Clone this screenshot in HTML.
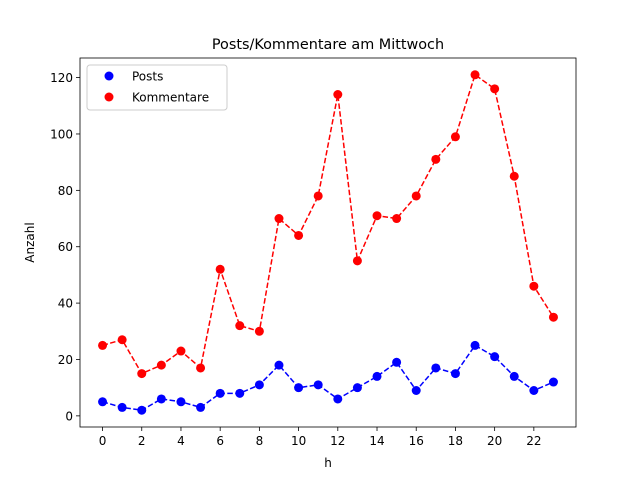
<!DOCTYPE html>
<html><head><meta charset="utf-8"><style>
body{margin:0;background:#fff;}
svg text{font-family:"DejaVu Sans","Liberation Sans",sans-serif;}
</style></head><body>
<svg id="chart" width="640" height="480" xmlns="http://www.w3.org/2000/svg"></svg>
<script>
const hours = [0,1,2,3,4,5,6,7,8,9,10,11,12,13,14,15,16,17,18,19,20,21,22,23];
const posts = [5,3,2,6,5,3,8,8,11,18,10,11,6,10,14,19,9,17,15,25,21,14,9,12];
const kommentare = [25,27,15,18,23,17,52,32,30,70,64,78,114,55,71,70,78,91,99,121,116,85,46,35];
const xTicks = [0,2,4,6,8,10,12,14,16,18,20,22];
const yTicks = [0,20,40,60,80,100,120];

const L=80,R=576,T=58,B=427;
const allV=posts.concat(kommentare);
const vmin=Math.min(...allV), vmax=Math.max(...allV);
const ypad=(vmax-vmin)*0.05, y0=vmin-ypad, y1=vmax+ypad;
const hmin=Math.min(...hours), hmax=Math.max(...hours), xpad=(hmax-hmin)*0.05;
const x0=hmin-xpad, x1=hmax+xpad;
const sx=v=>L+(v-x0)/(x1-x0)*(R-L);
const sy=v=>B-(v-y0)/(y1-y0)*(B-T);
const svg=document.getElementById('chart');
const NS='http://www.w3.org/2000/svg';
function mk(tag,attrs,parent){const e=document.createElementNS(NS,tag);for(const k in attrs)e.setAttribute(k,attrs[k]);(parent||svg).appendChild(e);return e;}

const title=mk('text',{x:(L+R)/2,y:49,'text-anchor':'middle','font-size':'14.4'});
title.textContent='Posts/Kommentare am Mittwoch';



xTicks.forEach(t=>{
  const x=sx(t);
  const ln=mk('line',{x1:x,x2:x,y1:B,y2:B+4,stroke:'#000','stroke-width':0.8});
  
  
  const tx=mk('text',{x:x,y:B+18,'text-anchor':'middle','font-size':'12'});
  tx.textContent=t;
  
  
});
yTicks.forEach(t=>{
  const y=sy(t);
  const ln=mk('line',{x1:L-4,x2:L,y1:y,y2:y,stroke:'#000','stroke-width':0.8});
  
  
  const tx=mk('text',{x:L-7,y:y+4.5,'text-anchor':'end','font-size':'12'});
  tx.textContent=t;
  
  
});
const xl=mk('text',{x:(L+R)/2,y:467,'text-anchor':'middle','font-size':'12'});
xl.textContent='h';


const yl=mk('text',{x:0,y:0,'text-anchor':'middle','font-size':'12',transform:`translate(34,${(T+B)/2}) rotate(-90)`});
yl.textContent='Anzahl';



function series(vals,color,name){
  const g=mk('g',{});
  
  
  const d=vals.map((v,i)=>(i?'L':'M')+sx(hours[i])+','+sy(v)).join(' ');
  const p=mk('path',{d:d,fill:'none',stroke:color,'stroke-width':1.5,'stroke-dasharray':'5.5,2.4'},g);
  
  
  vals.forEach((v,i)=>{
    const c=mk('circle',{cx:sx(hours[i]),cy:sy(v),r:4.5,fill:color},g);
    
    
  });
}
series(posts,'#0000ff','posts');
series(kommentare,'#ff0000','kommentare');

const frame=mk('rect',{x:L,y:T,width:R-L,height:B-T,fill:'none',stroke:'#000','stroke-width':0.8});



const lg=mk('g',{});


mk('rect',{x:87,y:65,width:140,height:45,rx:3,fill:'#fff','fill-opacity':0.8,stroke:'#ccc','stroke-width':1},lg);
[['Posts','#0000ff',76],['Kommentare','#ff0000',97]].forEach(([n,c,y])=>{
  const e=mk('g',{},lg);
  
  
  mk('circle',{cx:109,cy:y,r:4.5,fill:c},e);
  const t=mk('text',{x:132,y:y+4.5,'font-size':'12'},e);
  t.textContent=n;
});
</script>
</body></html>
